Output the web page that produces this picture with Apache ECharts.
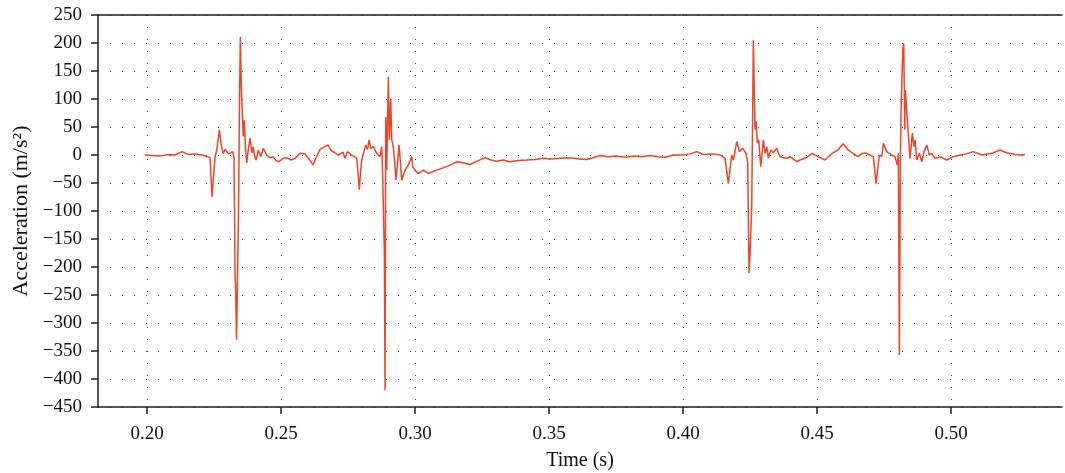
<!DOCTYPE html>
<html>
<head>
<meta charset="utf-8">
<script src="https://cdn.jsdelivr.net/npm/echarts@6/dist/echarts.min.js"></script>
<style>html,body{margin:0;padding:0;background:#fff}#c{width:1065px;height:473px}</style>
</head>
<body>
<div id="c"></div>
<script>
const timeS = [0.19925,0.20187,0.20485,0.20784,0.21045,0.21306,0.21530,0.21791,0.22052,0.22239,0.22351,0.22425,0.22537,0.22612,0.22698,0.22761,0.22836,0.22910,0.22974,0.23041,0.23097,0.23198,0.23246,0.23284,0.23302,0.23340,0.23414,0.23451,0.23481,0.23519,0.23556,0.23593,0.23631,0.23675,0.23720,0.23780,0.23843,0.23907,0.23955,0.24011,0.24067,0.24153,0.24243,0.24340,0.24466,0.24590,0.24701,0.24813,0.24925,0.25075,0.25224,0.25373,0.25522,0.25709,0.25896,0.26007,0.26119,0.26194,0.26306,0.26455,0.26604,0.26754,0.26866,0.27015,0.27127,0.27201,0.27313,0.27388,0.27474,0.27638,0.27825,0.27884,0.27922,0.27966,0.28011,0.28071,0.28160,0.28228,0.28284,0.28347,0.28444,0.28571,0.28694,0.28757,0.28795,0.28832,0.28854,0.28881,0.28907,0.28944,0.29004,0.29041,0.29093,0.29131,0.29190,0.29291,0.29403,0.29504,0.29627,0.29750,0.29813,0.29877,0.29914,0.30000,0.30123,0.30310,0.30496,0.30810,0.31045,0.31306,0.31556,0.31791,0.32052,0.32351,0.32612,0.32836,0.33049,0.33284,0.33545,0.33843,0.34168,0.34478,0.34787,0.35112,0.35410,0.35672,0.35907,0.36157,0.36407,0.36642,0.36903,0.37201,0.37526,0.37836,0.38146,0.38470,0.38769,0.39067,0.39328,0.39638,0.40011,0.40261,0.40511,0.40757,0.41131,0.41381,0.41567,0.41690,0.41817,0.41877,0.42004,0.42101,0.42228,0.42351,0.42414,0.42463,0.42500,0.42563,0.42623,0.42687,0.42724,0.42772,0.42825,0.42899,0.42996,0.43060,0.43123,0.43183,0.43272,0.43369,0.43496,0.43619,0.43869,0.43993,0.44243,0.44366,0.44590,0.44813,0.45037,0.45299,0.45560,0.45784,0.45970,0.46157,0.46343,0.46530,0.46679,0.46854,0.47101,0.47201,0.47325,0.47414,0.47474,0.47601,0.47787,0.47910,0.47996,0.48034,0.48071,0.48108,0.48134,0.48198,0.48235,0.48272,0.48295,0.48332,0.48384,0.48470,0.48556,0.48619,0.48657,0.48720,0.48817,0.48907,0.48993,0.49093,0.49190,0.49280,0.49403,0.49590,0.49840,0.50086,0.50336,0.50560,0.50832,0.51146,0.51519,0.51828,0.52078,0.52388,0.52575,0.52761];
const accel = [0,-1,-2,1,0,6,1,2,0,-3,-5,-75,-4,12,45,20,3,10,9,2,3,6,-5,-220,-230,-330,-100,100,211,120,75,33,62,10,-14,10,30,4,15,0,-9,9,-3,12,0,-5,-3,-10,-12,-6,-5,-9,-6,3,2,-5,-12,-18,-5,10,14,18,8,4,0,3,5,-6,6,0,-6,-9,-62,-30,-9,-7,18,10,27,12,15,3,-3,15,-42,-128,-170,-420,68,-27,140,27,101,27,15,-45,18,-45,-27,-18,-10,-3,-21,-27,-33,-27,-33,-27,-23,-18,-12,-14,-17,-10,-5,-9,-11,-9,-12,-10,-9,-8,-6,-7,-6,-5,-6,-7,-8,-5,-1,-3,-2,-4,-2,-3,-1,-3,-4,0,0,2,6,1,2,0,-6,-51,0,-9,24,6,12,3,-15,-211,-175,-92,205,45,60,21,27,-21,27,3,15,-6,9,4,12,-3,-6,-3,-12,-9,-5,3,-3,-9,3,9,20,9,3,-3,3,3,-3,-51,0,-3,21,6,0,-3,-18,3,-357,-21,80,187,199,45,116,113,51,-6,39,15,27,-9,3,-12,6,18,0,3,-6,-3,-9,-3,0,2,6,0,3,9,4,1,0,1];
const xTicks = [0.20,0.25,0.30,0.35,0.40,0.45,0.50];
const xLabels = ['0.20','0.25','0.30','0.35','0.40','0.45','0.50'];
const yMin = -450, yMax = 250, yStep = 50;
const xName = 'Time (s)';
const yName = 'Acceleration (m/s²)';

const data = timeS.map((t, i) => [t, accel[i]]);
const font = 'Liberation Serif';
const chart = echarts.init(document.getElementById('c'), null, {renderer: 'canvas'});
chart.setOption({
  animation: false,
  backgroundColor: '#fff',
  grid: {left: 98, right: 3, top: 15, bottom: 66, containLabel: false, outerBoundsMode: 'none'},
  xAxis: [{
    type: 'value', min: 0.1817, max: 0.5414,
    name: xName, nameLocation: 'middle', nameGap: 44,
    nameTextStyle: {fontFamily: font, fontSize: 20, color: '#111'},
    axisLine: {show: true, onZero: false, lineStyle: {color: '#222', width: 1.5}},
    axisTick: {show: true, length: 7, customValues: xTicks, lineStyle: {color: '#222', width: 1.5}},
    axisLabel: {customValues: xTicks, margin: 18, fontFamily: font, fontSize: 19, color: '#111',
      formatter: v => { const i = xTicks.findIndex(t => Math.abs(t - v) < 1e-6); return i >= 0 ? xLabels[i] : ''; }},
    splitLine: {show: true, lineStyle: {color: '#444', width: 1, type: [1, 11]}}
  }, {
    type: 'value', position: 'top', min: 0.1817, max: 0.5414,
    axisLine: {show: true, onZero: false, lineStyle: {color: '#222', width: 1.5}},
    axisTick: {show: false}, axisLabel: {show: false}, splitLine: {show: false}
  }],
  yAxis: {
    type: 'value', min: yMin, max: yMax, interval: yStep,
    name: yName, nameLocation: 'middle', nameGap: 65, nameRotate: 90,
    nameTextStyle: {fontFamily: font, fontSize: 22, color: '#111'},
    axisLine: {show: true, onZero: false, lineStyle: {color: '#222', width: 1.5}},
    axisTick: {show: true, length: 7, lineStyle: {color: '#222', width: 1.5}},
    axisLabel: {margin: 16, fontFamily: font, fontSize: 19, color: '#111',
      formatter: v => v < 0 ? '\u2212' + Math.abs(v) : String(v)},
    splitLine: {show: true, lineStyle: {color: '#444', width: 1, type: [1, 11]}}
  },
  series: [{
    type: 'line', data: data, showSymbol: false, symbol: 'none',
    xAxisIndex: 0,
    lineStyle: {color: '#F0442A', width: 1.5}, clip: true
  }]
});
</script>
</body>
</html>
